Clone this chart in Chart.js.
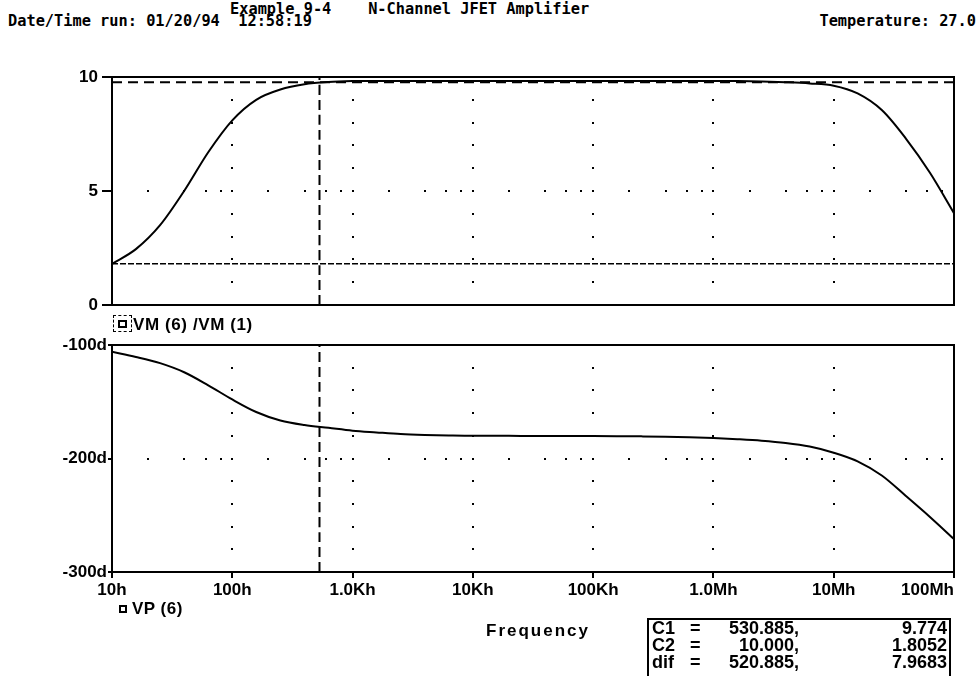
<!DOCTYPE html>
<html lang="en">
<head>
<meta charset="UTF-8" />
<title>N-Channel JFET Amplifier</title>
<script src="https://cdn.jsdelivr.net/npm/chart.js"></script>
<style>
  body { margin: 0; width: 978px; height: 676px; background: #fff; position: relative; overflow: hidden; color: #000; }
  .t { position: absolute; white-space: pre; font-family: "DejaVu Sans Mono", monospace; font-weight: bold; font-size: 15.3px; line-height: 15px; }
  .b { position: absolute; white-space: pre; font-family: "Liberation Sans", Arial, sans-serif; font-weight: bold; font-size: 17px; line-height: 17px; }
  canvas { position: absolute; left: 0; }
  #cursors { position: absolute; left: 647px; top: 618px; width: 300px; height: 80px; border: 2px solid #000; }
  #cursors .row { position: relative; height: 17px; font-size: 18px; }
  #cursors span { position: absolute; top: 0; }
</style>
</head>
<body>
<div class="t" style="left:230px;top:2px">Example 9-4    N-Channel JFET Amplifier</div>
<div class="t" style="left:8px;top:14px">Date/Time run: 01/20/94  12:58:19</div>
<div class="t" style="right:2px;top:14px">Temperature: 27.0</div>

<canvas id="magChart" width="978" height="260" style="top:60px"></canvas>
<canvas id="phaseChart" width="978" height="346" style="top:330px"></canvas>

<div style="position:absolute;left:113px;top:315px;width:17px;height:15px;border:1.5px dashed #000"></div>
<div style="position:absolute;left:118px;top:320px;width:5px;height:4px;border:2px solid #000"></div>
<div class="b" style="left:133px;top:316px;letter-spacing:0.6px">VM (6) /VM (1)</div>

<div style="position:absolute;left:119px;top:605px;width:4px;height:4px;border:2px solid #000"></div>
<div class="b" style="left:132px;top:600px;letter-spacing:0.5px">VP (6)</div>

<div class="b" style="left:486px;top:622px;letter-spacing:2px">Frequency</div>
<div id="cursors"></div>

<script>
// x axis (Hz)
const xMin = 10, xMax = 1e8;
const xDecades = [10, 100, 1e3, 1e4, 1e5, 1e6, 1e7, 1e8];
const xTickLabels = ["10h", "100h", "1.0Kh", "10Kh", "100Kh", "1.0Mh", "10Mh", "100Mh"];

// sample frequencies, 5 per decade
const freq = [10, 15.8, 25.1, 39.8, 63.1, 100, 158, 251, 398, 631,
  1e3, 1.58e3, 2.51e3, 3.98e3, 6.31e3, 1e4, 1.58e4, 2.51e4, 3.98e4, 6.31e4,
  1e5, 1.58e5, 2.51e5, 3.98e5, 6.31e5, 1e6, 1.58e6, 2.51e6, 3.98e6, 6.31e6,
  1e7, 1.58e7, 2.51e7, 3.98e7, 6.31e7, 1e8];

// VM(6)/VM(1)
const magVal = [1.805, 2.45, 3.5, 5.0, 6.7, 8.1, 9.0, 9.45, 9.68, 9.78,
  9.82, 9.83, 9.83, 9.83, 9.83, 9.83, 9.83, 9.83, 9.83, 9.83,
  9.83, 9.83, 9.83, 9.83, 9.83, 9.83, 9.82, 9.8, 9.77, 9.72,
  9.62, 9.28, 8.55, 7.3, 5.8, 4.03];
const magTicks = [0, 5, 10];
const magDots = [1, 2, 3, 4, 5, 6, 7, 8, 9];

// VP(6), degrees
const phaseVal = [-106, -110.5, -116, -124, -135.5, -148, -159, -166.5, -170.5, -173,
  -175.5, -177, -178.4, -179.2, -179.7, -180, -180, -180.1, -180.1, -180.2,
  -180.2, -180.3, -180.5, -180.8, -181.3, -182, -183, -184.3, -186.3, -189.5,
  -194.9, -202.5, -215, -233, -251.5, -271];
const phaseTicks = [-300, -200, -100];
const phaseDots = [-120, -140, -160, -180, -200, -220, -240, -260, -280];

// cursors
const cursorNames = ["C1", "C2", "dif"];
const cursorFreq = [530.885, 10.000, 520.885];
const cursorVal = ["9.774", "1.8052", "7.9683"];

const tickFont = { family: "'Liberation Sans', Arial, sans-serif", size: 17, weight: "bold" };

const box = document.getElementById("cursors");
cursorNames.forEach((n, i) => {
  const row = document.createElement("div");
  row.className = "row b";
  row.style.position = "relative";
  row.innerHTML = '<span style="left:3px">' + n + '</span>' +
    '<span style="left:41px">=</span>' +
    '<span style="right:150px">' + cursorFreq[i].toFixed(3) + ',</span>' +
    '<span style="right:2px">' + cursorVal[i] + '</span>';
  box.appendChild(row);
});

const frame = {
  id: "frame",
  beforeDatasetsDraw(chart, args, o) {
    const { ctx, scales: { x, y } } = chart;
    ctx.save();
    ctx.fillStyle = "#000";
    xDecades.slice(1, -1).forEach(d => {
      const px = Math.round(x.getPixelForValue(d));
      o.dots.forEach(v => ctx.fillRect(px - 1, Math.round(y.getPixelForValue(v)) - 1, 2, 2));
    });
    const py = Math.round(y.getPixelForValue(o.row));
    xDecades.slice(0, -1).forEach(d => {
      [1, 2, 4, 6, 8].forEach(m => {
        if (d * m > xMin) ctx.fillRect(Math.round(x.getPixelForValue(d * m)) - 1, py - 1, 2, 2);
      });
    });
    ctx.restore();
  },
  afterDraw(chart, args, o) {
    const { ctx, chartArea: a, scales: { x } } = chart;
    ctx.save();
    ctx.strokeStyle = "#000";
    ctx.lineWidth = 2;
    ctx.strokeRect(a.left, a.top, a.right - a.left, a.bottom - a.top);
    if (o.xLabels) {
      ctx.fillStyle = "#000";
      ctx.font = "bold 17px 'Liberation Sans', Arial, sans-serif";
      ctx.textBaseline = "middle";
      xDecades.forEach((d, i) => {
        ctx.textAlign = i === xDecades.length - 1 ? "right" : "center";
        ctx.fillText(xTickLabels[i], x.getPixelForValue(d), a.bottom + 18);
      });
    }
    ctx.restore();
  }
};

function line(data, width, dash) {
  return { data, borderColor: "#000", borderWidth: width, borderDash: dash || [], pointRadius: 0, cubicInterpolationMode: "monotone" };
}

function yAxis(min, max, ticks, fmt, tickLen, pad) {
  return {
    min, max,
    afterBuildTicks: a => { a.ticks = ticks.map(v => ({ value: v })); },
    afterFit: a => { a.width = 112; },
    grid: { drawOnChartArea: false, tickLength: tickLen, color: "#000", lineWidth: 2 },
    border: { display: false },
    ticks: { padding: pad, color: "#000", font: tickFont, callback: fmt }
  };
}

new Chart(document.getElementById("magChart"), {
  type: "line",
  data: {
    datasets: [
      line(freq.map((f, i) => ({ x: f, y: magVal[i] })), 2),
      line([{ x: xMin, y: +cursorVal[0] }, { x: xMax, y: +cursorVal[0] }], 2, [10, 6]),
      line([{ x: xMin, y: +cursorVal[1] }, { x: xMax, y: +cursorVal[1] }], 1.5, [6, 2]),
      line([{ x: cursorFreq[0], y: 0 }, { x: cursorFreq[0], y: 10 }], 2, [10, 5])
    ]
  },
  options: {
    responsive: false, animation: false, events: [],
    layout: { padding: { top: 17, right: 24, bottom: 15, left: 0 } },
    plugins: { legend: { display: false }, tooltip: { enabled: false }, frame: { dots: magDots, row: 5, xLabels: false } },
    scales: {
      x: { type: "logarithmic", min: xMin, max: xMax, display: false },
      y: yAxis(0, 10, magTicks, v => String(v), 10, 4)
    }
  },
  plugins: [frame]
});

new Chart(document.getElementById("phaseChart"), {
  type: "line",
  data: {
    datasets: [
      line(freq.map((f, i) => ({ x: f, y: phaseVal[i] })), 2),
      line([{ x: cursorFreq[0], y: -300 }, { x: cursorFreq[0], y: -100 }], 2, [10, 5])
    ]
  },
  options: {
    responsive: false, animation: false, events: [],
    layout: { padding: { top: 15, right: 24, bottom: 64, left: 0 } },
    plugins: { legend: { display: false }, tooltip: { enabled: false }, frame: { dots: phaseDots, row: -200, xLabels: true } },
    scales: {
      x: {
        type: "logarithmic", min: xMin, max: xMax,
        afterBuildTicks: a => { a.ticks = xDecades.map(v => ({ value: v })); },
        afterFit: a => { a.height = 40; },
        grid: { drawOnChartArea: false, tickLength: 6, color: "#000", lineWidth: 2 },
        border: { display: false },
        ticks: { display: false }
      },
      y: yAxis(-300, -100, phaseTicks, v => v + "d", 4, 1)
    }
  },
  plugins: [frame]
});
</script>
</body>
</html>
